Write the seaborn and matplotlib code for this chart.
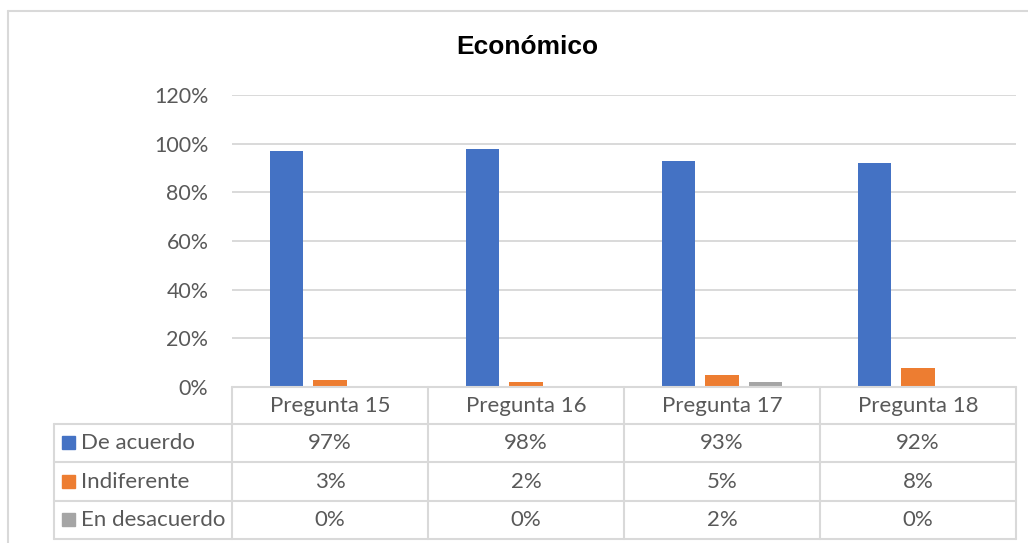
import numpy as np
import pandas as pd
import seaborn as sns
import matplotlib.pyplot as plt
from matplotlib.lines import Line2D
from matplotlib.patches import Rectangle

# data
preguntas = ["Pregunta 15", "Pregunta 16", "Pregunta 17", "Pregunta 18"]
series = ["De acuerdo", "Indiferente", "En desacuerdo"]
de_acuerdo = [0.97, 0.98, 0.93, 0.92]
indiferente = [0.03, 0.02, 0.05, 0.08]
en_desacuerdo = [0.00, 0.00, 0.02, 0.00]
colors = ["#4472C4", "#ED7D31", "#A5A5A5"]

W, H = 1028, 543
TXT = "#595959"
GRID = "#D9D9D9"


def fx(x):
    return x / W


def fy(y):
    return 1 - y / H


df = pd.DataFrame({
    "pregunta": preguntas * 3,
    "serie": [s for s in series for _ in preguntas],
    "valor": de_acuerdo + indiferente + en_desacuerdo,
})

sns.set_style("white")
plt.rcParams["font.family"] = ["Lato", "DejaVu Sans"]

fig = plt.figure(figsize=(W / 100, H / 100), dpi=100)
ax = fig.add_axes([fx(232), fy(387), fx(1016) - fx(232), fy(95) - fy(387)])

sns.barplot(data=df, x="pregunta", y="valor", hue="serie", hue_order=series,
            order=preguntas, palette=colors, width=0.666, gap=0.22,
            saturation=1, legend=False, ax=ax, edgecolor="none")

ax.set_ylim(0, 1.2)
ax.set_xlim(-0.5, 3.5)
ax.set_yticks(np.arange(0, 1.21, 0.2))
ax.set_yticklabels([f"{int(round(v * 100))}%" for v in np.arange(0, 1.21, 0.2)])
ax.yaxis.grid(True, color=GRID, lw=1.4)
ax.set_axisbelow(True)
ax.tick_params(axis="y", length=0, pad=17, labelsize=15.4, labelcolor=TXT)
ax.set_xticks([])
ax.set_xlabel("")
ax.set_ylabel("")
for s in ax.spines.values():
    s.set_visible(False)

# title
fig.text(fx(527), fy(47), "Económico", ha="center", va="center",
         fontsize=19, fontweight="bold", family="Liberation Sans", color="black")

# outer frame
fig.add_artist(Line2D([fx(8), fx(1028)], [fy(11), fy(11)], color=GRID, lw=1.5))
fig.add_artist(Line2D([fx(8), fx(8)], [fy(11), fy(543)], color=GRID, lw=1.5))

# data table
col_x = [232, 428, 624, 820, 1016]
row_y = [387, 424, 462, 501, 539]
tl = dict(color=GRID, lw=1.5)
fig.add_artist(Line2D([fx(232), fx(1016)], [fy(387), fy(387)], **tl))
for y in row_y[1:]:
    fig.add_artist(Line2D([fx(54), fx(1016)], [fy(y), fy(y)], **tl))
for x in col_x:
    fig.add_artist(Line2D([fx(x), fx(x)], [fy(387), fy(539)], **tl))
fig.add_artist(Line2D([fx(54), fx(54)], [fy(424), fy(539)], **tl))

for j, p in enumerate(preguntas):
    cx = (col_x[j] + col_x[j + 1]) / 2
    fig.text(fx(cx), fy((row_y[0] + row_y[1]) / 2), p, ha="center", va="center",
             fontsize=16, color=TXT)

table_vals = [de_acuerdo, indiferente, en_desacuerdo]
for i, (name, vals) in enumerate(zip(series, table_vals)):
    cy = (row_y[i + 1] + row_y[i + 2]) / 2
    fig.add_artist(Rectangle((fx(62), fy(cy + 6)), fx(13), 13 / H,
                             color=colors[i], transform=fig.transFigure))
    fig.text(fx(81), fy(cy), name, ha="left", va="center", fontsize=16, color=TXT)
    for j, v in enumerate(vals):
        cx = (col_x[j] + col_x[j + 1]) / 2
        fig.text(fx(cx), fy(cy), f"{int(round(v * 100))}%", ha="center",
                 va="center", fontsize=16, color=TXT)

fig.savefig("out.png", dpi=100)
